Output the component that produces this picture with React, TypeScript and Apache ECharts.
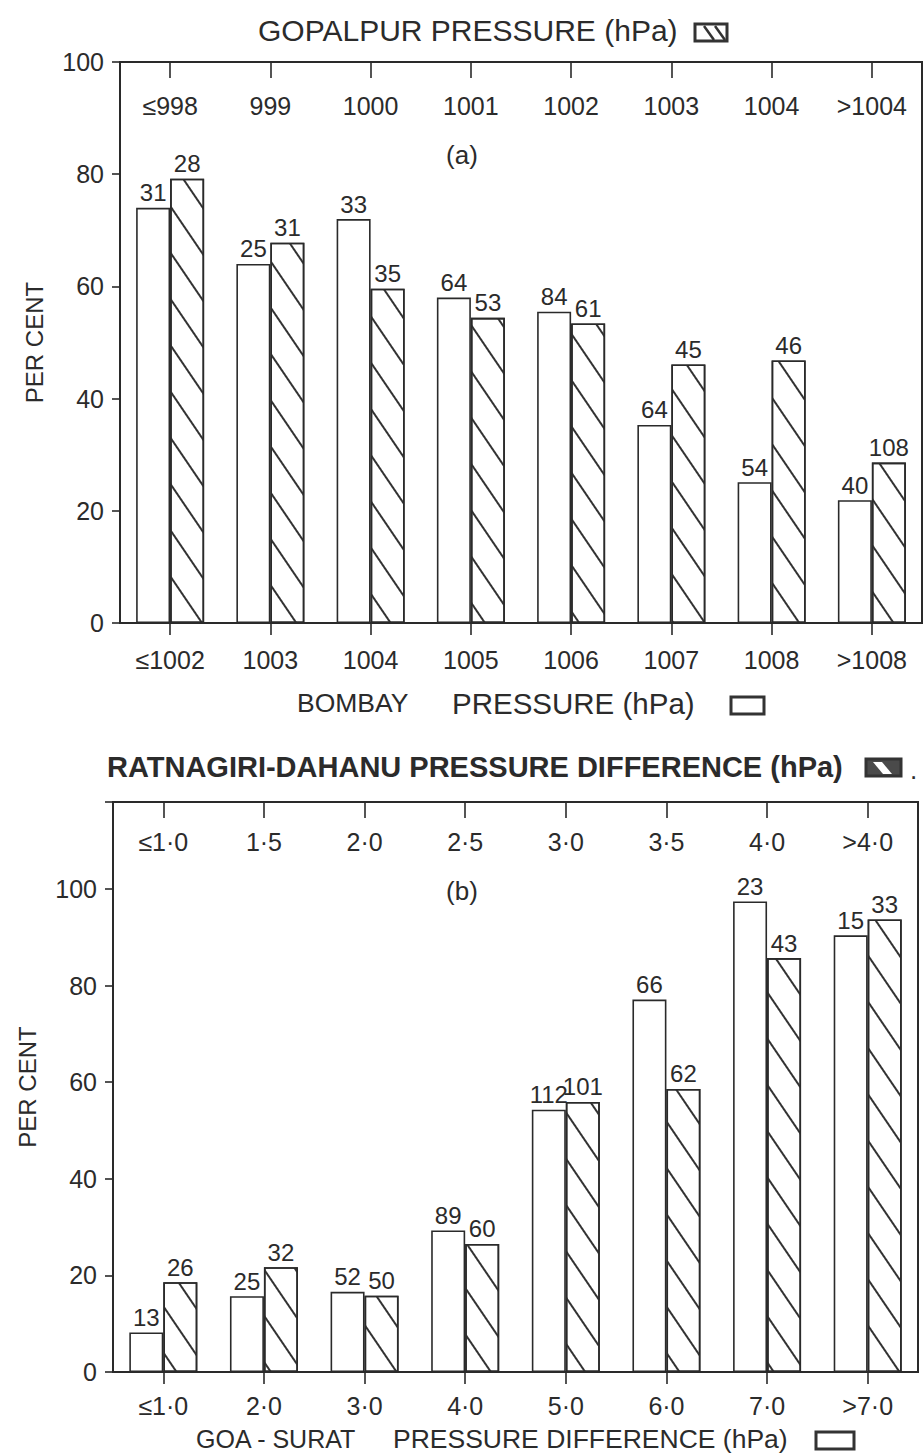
import React, { useEffect, useRef } from "react";
import * as echarts from "echarts";

// ---------- Data ----------
const aBottomCats = ["≤1002", "1003", "1004", "1005", "1006", "1007", "1008", ">1008"];
const aTopCats = ["≤998", "999", "1000", "1001", "1002", "1003", "1004", ">1004"];
const aBombay = [74, 64, 72, 58, 55.5, 35.3, 25.1, 21.9];
const aGopalpur = [79.2, 67.8, 59.6, 54.4, 53.4, 46.1, 46.8, 28.6];
const aBombayN = [31, 25, 33, 64, 84, 64, 54, 40];
const aGopalpurN = [28, 31, 35, 53, 61, 45, 46, 108];

const bBottomCats = ["≤1·0", "2·0", "3·0", "4·0", "5·0", "6·0", "7·0", ">7·0"];
const bTopCats = ["≤1·0", "1·5", "2·0", "2·5", "3·0", "3·5", "4·0", ">4·0"];
const bGoaSurat = [8.2, 15.7, 16.6, 29.3, 54.3, 77.1, 97.4, 90.4];
const bRatDah = [18.6, 21.7, 15.8, 26.5, 55.9, 58.6, 85.7, 93.7];
const bGoaSuratN = [13, 25, 52, 89, 112, 66, 23, 15];
const bRatDahN = [26, 32, 50, 60, 101, 62, 43, 33];

// ---------- Styles ----------
const FONT = "'Liberation Sans', Arial, sans-serif";
const INK = "#2b2b2b";
const LINE = "#2a2a2a";

const hatch = {
  symbol: "rect",
  symbolSize: 1,
  dashArrayX: [1, 0],
  dashArrayY: [2, 24],
  rotation: 0.974,
  color: "#333333",
};

function barSeries(name: string, data: number[], counts: number[], idx: number, hatched: boolean) {
  return {
    name,
    type: "bar",
    xAxisIndex: idx * 2,
    yAxisIndex: idx,
    data,
    barWidth: 34,
    barGap: "0%",
    itemStyle: {
      color: "#ffffff",
      borderColor: LINE,
      borderWidth: 1.6,
      ...(hatched ? { decal: hatch } : {}),
    },
    label: {
      show: true,
      position: "top",
      distance: 3,
      fontSize: 24,
      fontFamily: FONT,
      color: INK,
      formatter: (p: any) => String(counts[p.dataIndex]),
    },
  };
}

function xAxes(gridIndex: number, bottom: string[], top: string[], bottomMargin: number, topMargin: number) {
  return [
    {
      type: "category",
      gridIndex,
      position: "bottom",
      data: bottom,
      axisLine: { show: true, lineStyle: { color: LINE, width: 2 } },
      axisTick: { show: true, alignWithLabel: true, length: 12, lineStyle: { color: LINE, width: 1.6 } },
      axisLabel: { fontSize: 25, fontFamily: FONT, color: INK, margin: bottomMargin, interval: 0 },
      splitLine: { show: false },
    },
    {
      type: "category",
      gridIndex,
      position: "top",
      data: top,
      axisLine: { show: true, lineStyle: { color: LINE, width: 2 } },
      axisTick: { show: true, inside: true, alignWithLabel: true, length: 16, lineStyle: { color: LINE, width: 1.6 } },
      axisLabel: { inside: true, fontSize: 25, fontFamily: FONT, color: INK, margin: topMargin, interval: 0 },
      splitLine: { show: false },
    },
  ];
}

function yAxis(gridIndex: number, max: number) {
  return {
    type: "value",
    gridIndex,
    min: 0,
    max,
    interval: 20,
    name: "PER CENT",
    nameLocation: "middle",
    nameRotate: 90,
    nameGap: 74,
    nameTextStyle: { fontSize: 24, fontFamily: FONT, color: INK },
    axisLine: { show: true, lineStyle: { color: LINE, width: 2 } },
    axisTick: { show: true, length: 8, lineStyle: { color: LINE, width: 1.6 } },
    axisLabel: {
      fontSize: 25,
      fontFamily: FONT,
      color: INK,
      margin: 16,
      formatter: (v: number) => (v > 100 ? "" : String(v)),
    },
    splitLine: { show: false },
  };
}

function txt(text: string, x: number, y: number, size: number, align = "left", weight = "normal") {
  return {
    type: "text",
    x,
    y,
    style: { text, fill: INK, fontSize: size, fontFamily: FONT, fontWeight: weight, align, verticalAlign: "middle" },
  };
}

function box(x: number, y: number, w: number, h: number, fill = "#fff") {
  return { type: "rect", shape: { x, y, width: w, height: h }, style: { fill, stroke: "#333", lineWidth: 3 } };
}

function ln(x1: number, y1: number, x2: number, y2: number, stroke = "#333", w = 2.5) {
  return { type: "line", shape: { x1, y1, x2, y2 }, style: { stroke, lineWidth: w } };
}

export default function App() {
  const ref = useRef<HTMLDivElement>(null);
  useEffect(() => {
    if (!ref.current) return;
    const chart = echarts.init(ref.current, null, { renderer: "svg" });
    chart.setOption({
      animation: false,
      backgroundColor: "#ffffff",
      grid: [
        { left: 120, top: 62, width: 802, height: 561, show: true, borderColor: LINE, borderWidth: 2 },
        { left: 113, top: 802, width: 805, height: 570, show: true, borderColor: LINE, borderWidth: 2 },
      ],
      xAxis: [...xAxes(0, aBottomCats, aTopCats, 24, 31), ...xAxes(1, bBottomCats, bTopCats, 21, 27)],
      yAxis: [yAxis(0, 100), yAxis(1, 118)],
      series: [
        barSeries("BOMBAY PRESSURE (hPa)", aBombay, aBombayN, 0, false),
        barSeries("GOPALPUR PRESSURE (hPa)", aGopalpur, aGopalpurN, 0, true),
        barSeries("GOA - SURAT PRESSURE DIFFERENCE (hPa)", bGoaSurat, bGoaSuratN, 1, false),
        barSeries("RATNAGIRI-DAHANU PRESSURE DIFFERENCE (hPa)", bRatDah, bRatDahN, 1, true),
      ],
      graphic: [
        txt("GOPALPUR PRESSURE (hPa)", 258, 30, 30),
        box(695, 24, 32, 17),
        ln(704, 26, 714, 40),
        ln(715, 26, 725, 40),
        txt("(a)", 462, 155, 26, "center"),
        txt("BOMBAY", 297, 703, 26.5),
        txt("PRESSURE (hPa)", 452, 703, 29.5),
        box(731, 697, 33, 17),
        txt("RATNAGIRI-DAHANU PRESSURE DIFFERENCE (hPa)", 107, 767, 29, "left", "bold"),
        box(866, 759, 35, 17, "#4a4a4a"),
        { type: "polygon", shape: { points: [[873, 762], [882, 762], [892, 774], [883, 774]] }, style: { fill: "#ffffff" } },
        txt(".", 910, 770, 26),
        txt("(b)", 462, 891, 26, "center"),
        txt("GOA - SURAT", 196, 1439, 25),
        txt("PRESSURE DIFFERENCE (hPa)", 393, 1439, 26.5),
        box(816, 1432, 38, 17),
      ],
    });
    return () => chart.dispose();
  }, []);
  return <div ref={ref} style={{ position: "absolute", left: 0, top: 0, width: 923, height: 1455 }} />;
}
